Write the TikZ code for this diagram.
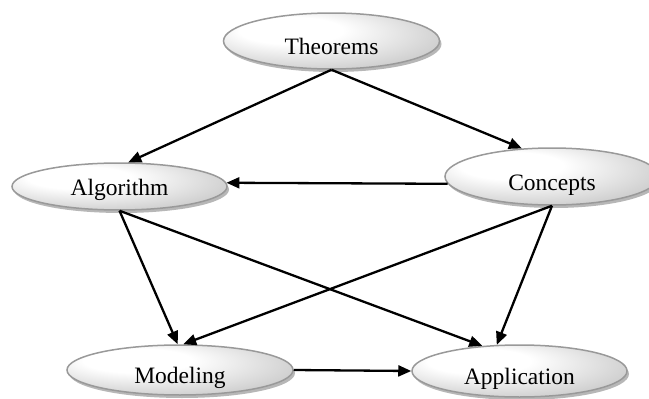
\documentclass[tikz,border=0pt]{standalone}
\usepackage{fontspec}
\setmainfont{Liberation Serif}
\usetikzlibrary{positioning,arrows.meta,shapes.geometric,shadows}

\pgfdeclareradialshading{ovalshade}{\pgfpoint{-12bp}{12bp}}{%
  color(0bp)=(white); color(12bp)=(white); color(38bp)=(gray!50); color(55bp)=(gray!75)}

\begin{document}
\begin{tikzpicture}[x=1pt,y=-1pt,
                every node/.style={ellipse, draw=gray!80, line width=1.5pt, shading=ovalshade,
                    drop shadow={shadow xshift=2pt, shadow yshift=-3pt, fill=gray!80, opacity=0.7},
                    font=\fontsize{23.5}{26}\selectfont, inner sep=0pt,
                    text height=17pt, text depth=0pt},
                lowtext/.style={text height=27pt},
                link/.style={line width=2.3pt, -{Triangle[length=13pt,width=11pt]}}]
            \useasboundingbox (0,0) rectangle (649,399);

            \node[minimum width=216pt, minimum height=56pt, lowtext] (thm) at (331.5,41) {Theorems};
            \node[minimum width=215pt, minimum height=47pt] (alg) at (119.5,186.5) {Algorithm};
            \node[minimum width=214pt, minimum height=57pt, lowtext] (con) at (552,176.5) {Concepts};
            \node[minimum width=226pt, minimum height=50pt, lowtext] (mod) at (180,370) {Modeling};
            \node[minimum width=215pt, minimum height=52pt, lowtext] (app) at (519.5,371) {Application};

            % edges
            \draw[link] (thm.south) -- (alg.70);
            \draw[link] (thm.south) -- (con.137);
            \draw[link] (con.184) -- (alg.2);
            \draw[link] (alg.south) -- (mod.95);
            \draw[link] (alg.south) -- (app.146);
            \draw[link] (con.south) -- (mod.83);
            \draw[link] (con.south) -- (app.131);
            \draw[link] (mod.east) -- (app.west);
        \end{tikzpicture}
\end{document}
